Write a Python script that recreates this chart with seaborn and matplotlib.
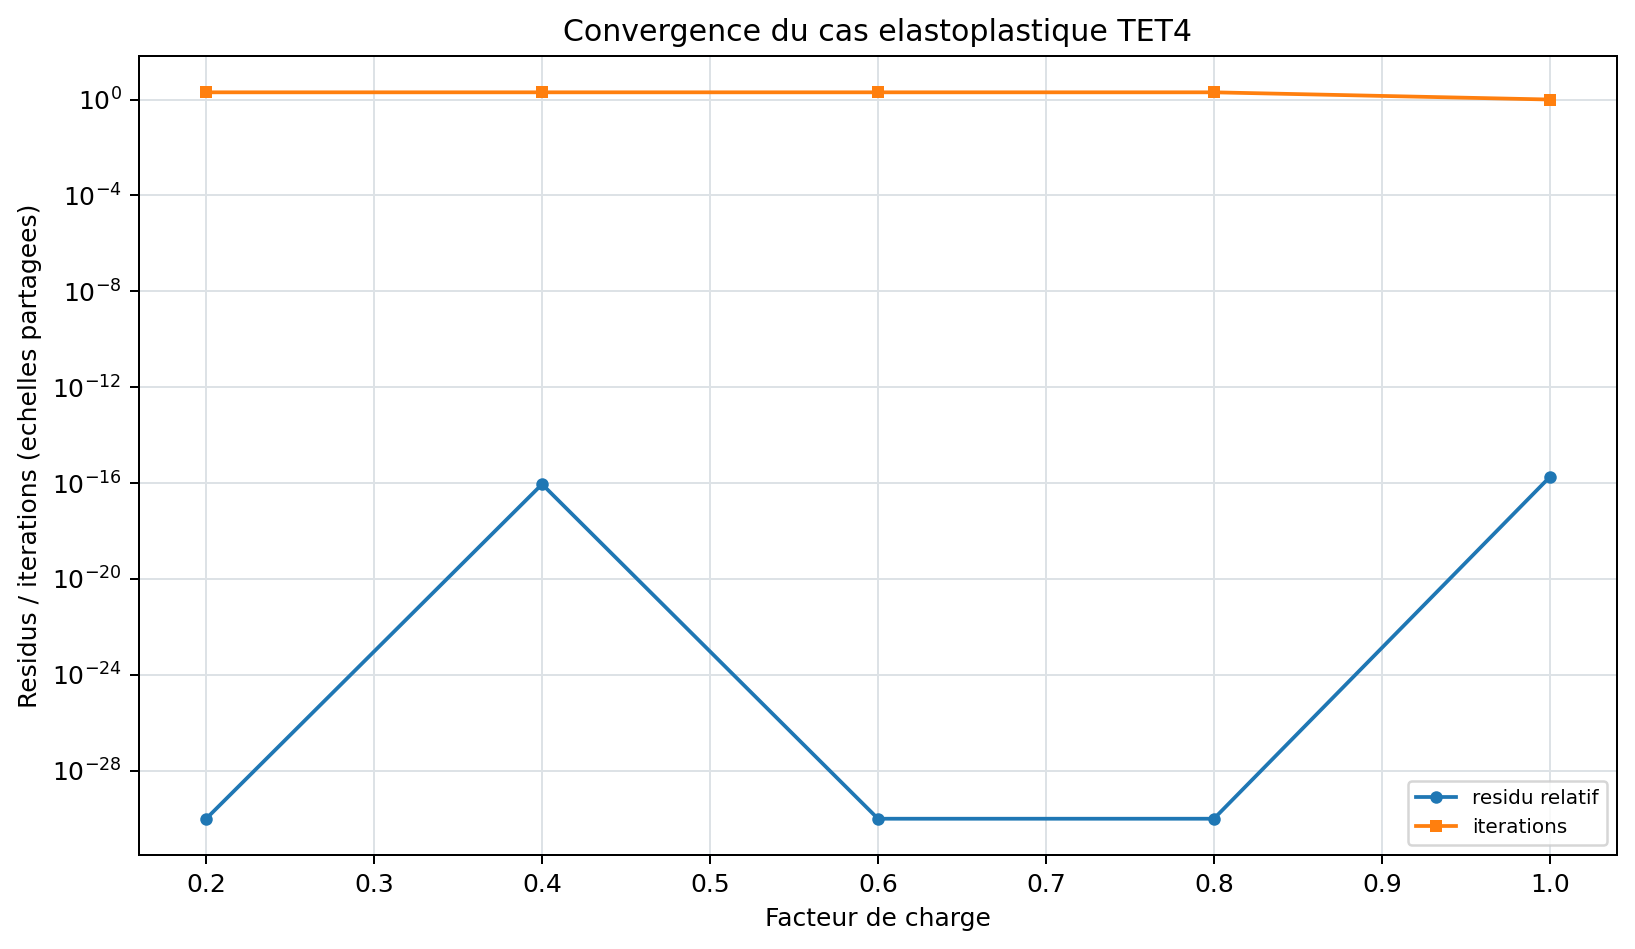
import numpy as np
import pandas as pd
import matplotlib
matplotlib.use("Agg")
import matplotlib.pyplot as plt
import seaborn as sns

# Load factors and convergence values
load_factors = [0.2, 0.4, 0.6, 0.8, 1.0]
residu_relatif = [1e-30, 9e-17, 1e-30, 1e-30, 1.8e-16]
iterations = [2, 2, 2, 2, 1]

df = pd.DataFrame({
    'facteur': load_factors,
    'residu': residu_relatif,
    'iterations': iterations,
})

fig, ax = plt.subplots(figsize=(1635 / 180, 949 / 180), dpi=180)
sns.lineplot(data=df, x='facteur', y='residu', marker='o', markersize=5,
             markeredgewidth=0, color='#1f77b4', linewidth=1.5,
             label='residu relatif', ax=ax)
sns.lineplot(data=df, x='facteur', y='iterations', marker='s', markersize=5,
             markeredgewidth=0, color='#ff7f0e', linewidth=1.5,
             label='iterations', ax=ax)

ax.set_yscale('log')
ax.grid(True, color='#dde2e6', linewidth=0.8)
ax.set_axisbelow(True)
ax.set_title('Convergence du cas elastoplastique TET4')
ax.set_xlabel('Facteur de charge')
ax.set_ylabel('Residus / iterations (echelles partagees)')
ax.legend(loc='lower right', fontsize=8)

fig.subplots_adjust(left=0.085, right=0.989, top=0.941, bottom=0.099)
plt.savefig('out.png', dpi=180)
